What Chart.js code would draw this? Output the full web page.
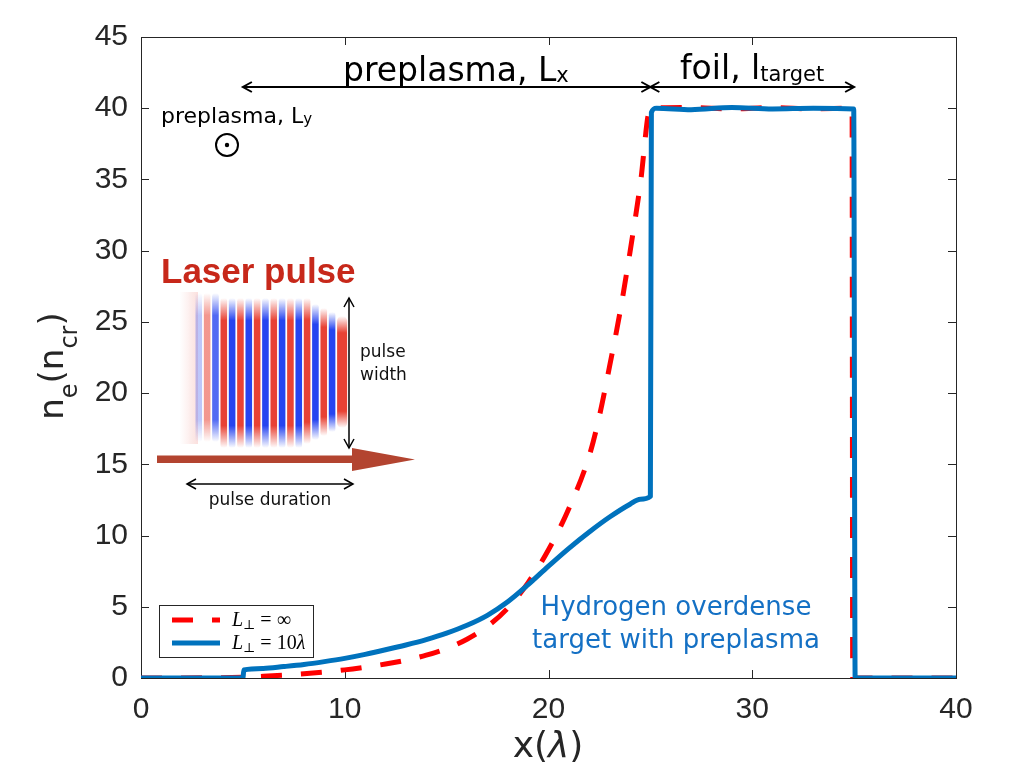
<!DOCTYPE html>
<html>
<head>
<meta charset="utf-8">
<script src="https://cdn.jsdelivr.net/npm/chart.js@4.4.1/dist/chart.umd.min.js"></script>
<style>
  html, body { margin: 0; padding: 0; background: #fff; }
</style>
</head>
<body>
<canvas id="density" width="1024" height="768"></canvas>
<script>
// L_perp = 10 lambda (solid blue)
const blueX = [0, 5, 5.05, 6, 7, 8, 9, 10, 11, 12, 13, 14, 15, 16, 17, 18, 19, 20, 21, 22, 23, 24, 24.5, 25, 25.05, 25.3, 27, 29, 31, 33, 34.98, 35.05, 40];
const blueY = [0, 0, 0.56, 0.67, 0.8, 0.95, 1.15, 1.38, 1.66, 1.98, 2.32, 2.7, 3.15, 3.7, 4.4, 5.35, 6.55, 7.85, 9.1, 10.25, 11.3, 12.2, 12.55, 12.75, 39.7, 40.0, 39.9, 40.05, 39.95, 40.0, 39.95, 0, 0];

// L_perp = infinity (dashed red)
const redX = [0, 5, 6, 7, 8, 9, 10, 11, 12, 13, 14, 15, 16, 17, 18, 19, 20, 21, 22, 22.5, 23, 23.5, 24, 24.5, 25, 27, 29, 31, 33, 34.9, 34.93, 40];
const redY = [0, 0.05, 0.12, 0.2, 0.3, 0.42, 0.57, 0.76, 0.98, 1.25, 1.6, 2.07, 2.72, 3.62, 4.9, 6.7, 9.0, 11.9, 15.6, 18.4, 21.9, 25.6, 29.9, 34.6, 40.0, 40.05, 39.95, 40.05, 39.95, 40.0, 0, 0];

const xTicks = [0, 10, 20, 30, 40];
const yTicks = [0, 5, 10, 15, 20, 25, 30, 35, 40, 45];

const BLUE = '#0072BD';
const RED = '#FF0000';
const AXIS = '#262626';
const SANS = '"DejaVu Sans", sans-serif';
const SERIF = '"Liberation Serif", serif';

const toPoints = (xs, ys) => xs.map((v, i) => ({ x: v, y: ys[i] }));

// draws pieces of text (normal / sub) one after the other
function drawRuns(ctx, x, y, runs, align) {
    let total = 0;
    runs.forEach(r => { ctx.font = r.font; total += ctx.measureText(r.t).width; });
    let cx = align === 'center' ? x - total / 2 : x;
    runs.forEach(r => {
        ctx.font = r.font;
        ctx.fillText(r.t, cx, y + (r.dy || 0));
        cx += ctx.measureText(r.t).width;
    });
}

function arrowHead(ctx, x, y, dir) {
    const s = 9, w = 5;
    ctx.beginPath();
    if (dir === 'l') { ctx.moveTo(x + s, y - w); ctx.lineTo(x, y); ctx.lineTo(x + s, y + w); }
    if (dir === 'r') { ctx.moveTo(x - s, y - w); ctx.lineTo(x, y); ctx.lineTo(x - s, y + w); }
    if (dir === 'u') { ctx.moveTo(x - w, y + s); ctx.lineTo(x, y); ctx.lineTo(x + w, y + s); }
    if (dir === 'd') { ctx.moveTo(x - w, y - s); ctx.lineTo(x, y); ctx.lineTo(x + w, y - s); }
    ctx.stroke();
}

function doubleArrow(ctx, x1, y1, x2, y2) {
    ctx.beginPath();
    ctx.moveTo(x1, y1);
    ctx.lineTo(x2, y2);
    ctx.stroke();
    if (y1 === y2) { arrowHead(ctx, x1, y1, 'l'); arrowHead(ctx, x2, y2, 'r'); }
    else { arrowHead(ctx, x1, y1, 'u'); arrowHead(ctx, x2, y2, 'd'); }
}

// box and inward ticks, under the curves
const framePlugin = {
    id: 'frame',
    beforeDatasetsDraw(chart) {
        const { ctx, chartArea: a, scales: { x, y } } = chart;
        ctx.save();
        ctx.strokeStyle = AXIS;
        ctx.lineWidth = 1;
        ctx.strokeRect(Math.round(a.left) + 0.5, Math.round(a.top) + 0.5,
            Math.round(a.right - a.left), Math.round(a.bottom - a.top));
        ctx.beginPath();
        x.ticks.forEach(t => {
            const px = Math.round(x.getPixelForValue(t.value)) + 0.5;
            ctx.moveTo(px, a.bottom); ctx.lineTo(px, a.bottom - 8);
            ctx.moveTo(px, a.top); ctx.lineTo(px, a.top + 8);
        });
        y.ticks.forEach(t => {
            const py = Math.round(y.getPixelForValue(t.value)) + 0.5;
            ctx.moveTo(a.left, py); ctx.lineTo(a.left + 8, py);
            ctx.moveTo(a.right, py); ctx.lineTo(a.right - 8, py);
        });
        ctx.stroke();
        ctx.restore();
    }
};

// the little laser-field sketch
function drawPulse(ctx) {
    const wash = ctx.createLinearGradient(180, 0, 198, 0);
    wash.addColorStop(0, 'rgba(235,110,100,0)');
    wash.addColorStop(1, 'rgba(235,110,100,0.22)');
    ctx.fillStyle = wash;
    ctx.fillRect(180, 292, 18, 152);
    for (let i = 0; i < 18; i++) {
        const isBlue = i % 2 === 0;
        const w = i === 17 ? 10 : 6.6;
        const sx = 195.5 + i * 8.33;
        const alpha = i === 0 ? 0.3 : i === 1 ? 0.55 : i === 2 ? 0.8 : 1;
        const top = i < 3 ? 293 : i > 13 ? 300 + (i - 13) * 4 : 298;
        const bot = i < 3 ? 442 : i > 12 ? 448 - (i - 12) * 4 : 448;
        const g = ctx.createLinearGradient(0, top, 0, bot);
        const c = isBlue ? '38,68,240' : '232,66,52';
        g.addColorStop(0, 'rgba(' + c + ',0)');
        g.addColorStop(0.15, 'rgba(' + c + ',' + alpha + ')');
        g.addColorStop(0.85, 'rgba(' + c + ',' + alpha + ')');
        g.addColorStop(1, 'rgba(' + c + ',0)');
        ctx.fillStyle = g;
        ctx.beginPath();
        ctx.roundRect(sx, top, w, bot - top, w / 2);
        ctx.fill();
    }
}

// labels, legend, sketch of the pulse
const notesPlugin = {
    id: 'notes',
    afterDraw(chart) {
        const { ctx, scales: { x } } = chart;
        ctx.save();
        ctx.fillStyle = AXIS;
        ctx.textBaseline = 'alphabetic';
        ctx.textAlign = 'left';

        // axis titles
        drawRuns(ctx, 548, 757, [
            { t: 'x(', font: '36px ' + SANS },
            { t: 'λ', font: 'italic 36px ' + SANS },
            { t: ')', font: '36px ' + SANS }
        ], 'center');

        ctx.save();
        ctx.translate(63, 366);
        ctx.rotate(-Math.PI / 2);
        drawRuns(ctx, 0, 0, [
            { t: 'n', font: '34px ' + SANS },
            { t: 'e', font: '24px ' + SANS, dy: 14 },
            { t: '(n', font: '34px ' + SANS },
            { t: 'cr', font: '24px ' + SANS, dy: 14 },
            { t: ')', font: '34px ' + SANS }
        ], 'center');
        ctx.restore();

        // top arrows
        ctx.fillStyle = '#000';
        ctx.strokeStyle = '#000';
        ctx.lineWidth = 2;
        const ay = 87;
        const x5 = x.getPixelForValue(5), x25 = x.getPixelForValue(25), x35 = x.getPixelForValue(35);
        doubleArrow(ctx, x5, ay, x25, ay);
        doubleArrow(ctx, x25, ay, x35, ay);
        drawRuns(ctx, 343, 81, [
            { t: 'preplasma, L', font: '33px ' + SANS },
            { t: 'x', font: '21px ' + SANS, dy: 1 }
        ], 'left');
        drawRuns(ctx, 680, 79, [
            { t: 'foil, l', font: '33px ' + SANS },
            { t: 'target', font: '21px ' + SANS, dy: 2 }
        ], 'left');

        drawRuns(ctx, 161, 123, [
            { t: 'preplasma, L', font: '22px ' + SANS },
            { t: 'y', font: '15px ' + SANS, dy: 1 }
        ], 'left');
        ctx.lineWidth = 2;
        ctx.beginPath();
        ctx.arc(227, 145, 11, 0, Math.PI * 2);
        ctx.stroke();
        ctx.beginPath();
        ctx.arc(227, 145, 2.2, 0, Math.PI * 2);
        ctx.fill();

        // laser pulse sketch
        ctx.fillStyle = '#C7281A';
        ctx.font = 'bold 35px "Liberation Sans", Arial, sans-serif';
        ctx.fillText('Laser pulse', 161, 283);
        drawPulse(ctx);

        // propagation arrow
        ctx.fillStyle = '#B34430';
        ctx.beginPath();
        ctx.moveTo(157, 455.5);
        ctx.lineTo(352, 455.5);
        ctx.lineTo(352, 448);
        ctx.lineTo(415, 459.5);
        ctx.lineTo(352, 471);
        ctx.lineTo(352, 463);
        ctx.lineTo(157, 463);
        ctx.closePath();
        ctx.fill();

        ctx.strokeStyle = '#000';
        ctx.lineWidth = 1.5;
        doubleArrow(ctx, 349, 298, 349, 448);
        doubleArrow(ctx, 187, 484, 353, 484);
        ctx.fillStyle = '#111';
        ctx.font = '17px ' + SANS;
        ctx.fillText('pulse', 360, 357);
        ctx.fillText('width', 360, 380);
        ctx.textAlign = 'center';
        ctx.fillText('pulse duration', 270, 505);

        // blue annotation
        ctx.fillStyle = '#1470C4';
        ctx.font = '26px ' + SANS;
        ctx.fillText('Hydrogen overdense', 676, 615);
        ctx.fillText('target with preplasma', 676, 648);

        // legend
        ctx.textAlign = 'left';
        ctx.fillStyle = '#fff';
        ctx.fillRect(159.5, 605.5, 154, 52);
        ctx.strokeStyle = AXIS;
        ctx.lineWidth = 1;
        ctx.strokeRect(159.5, 605.5, 154, 52);
        const sets = chart.data.datasets;
        const rows = [
            { ds: sets[1], y: 620, sub: '∞' },
            { ds: sets[0], y: 643, sub: '10' }
        ];
        rows.forEach(r => {
            ctx.strokeStyle = r.ds.borderColor;
            ctx.lineWidth = r.ds.borderWidth;
            ctx.setLineDash(r.ds.borderDash || []);
            ctx.beginPath();
            ctx.moveTo(172, r.y);
            ctx.lineTo(220, r.y);
            ctx.stroke();
            ctx.setLineDash([]);
            ctx.fillStyle = '#000';
            const runs = [
                { t: 'L', font: 'italic 20px ' + SERIF },
                { t: '⊥', font: '13px "DejaVu Serif", serif', dy: 3 },
                { t: ' = ', font: '20px ' + SERIF },
                { t: r.sub, font: '20px ' + SERIF }
            ];
            if (r.sub === '10') runs.push({ t: 'λ', font: 'italic 20px ' + SERIF });
            drawRuns(ctx, 232, r.y + 6, runs, 'left');
        });

        ctx.restore();
    }
};

new Chart(document.getElementById('density'), {
    type: 'line',
    data: {
        datasets: [{
            label: 'L⊥ = 10λ',
            data: toPoints(blueX, blueY),
            borderColor: BLUE,
            borderWidth: 5,
            pointRadius: 0,
            fill: false,
            cubicInterpolationMode: 'monotone',
            borderJoinStyle: 'round',
            order: 0
        }, {
            label: 'L⊥ = ∞',
            data: toPoints(redX, redY),
            borderColor: RED,
            borderWidth: 5,
            borderDash: [21, 19],
            pointRadius: 0,
            fill: false,
            cubicInterpolationMode: 'monotone',
            order: 1
        }]
    },
    options: {
        responsive: false,
        devicePixelRatio: 1,
        animation: false,
        layout: { padding: { top: 37, right: 68, left: 0, bottom: 0 } },
        plugins: {
            legend: { display: false },
            tooltip: { enabled: false }
        },
        scales: {
            x: {
                type: 'linear',
                min: 0,
                max: 40,
                afterBuildTicks: s => { s.ticks = xTicks.map(v => ({ value: v })); },
                afterFit: s => { s.height = 90; },
                grid: { display: false, drawTicks: false },
                border: { display: false },
                ticks: {
                    padding: 14,
                    color: AXIS,
                    font: { family: '"Liberation Sans", Arial, sans-serif', size: 30 }
                }
            },
            y: {
                type: 'linear',
                min: 0,
                max: 45,
                afterBuildTicks: s => { s.ticks = yTicks.map(v => ({ value: v })); },
                afterFit: s => { s.width = 141; },
                grid: { display: false, drawTicks: false },
                border: { display: false },
                ticks: {
                    padding: 13,
                    color: AXIS,
                    font: { family: '"Liberation Sans", Arial, sans-serif', size: 30 }
                }
            }
        }
    },
    plugins: [framePlugin, notesPlugin]
});
</script>
</body>
</html>
